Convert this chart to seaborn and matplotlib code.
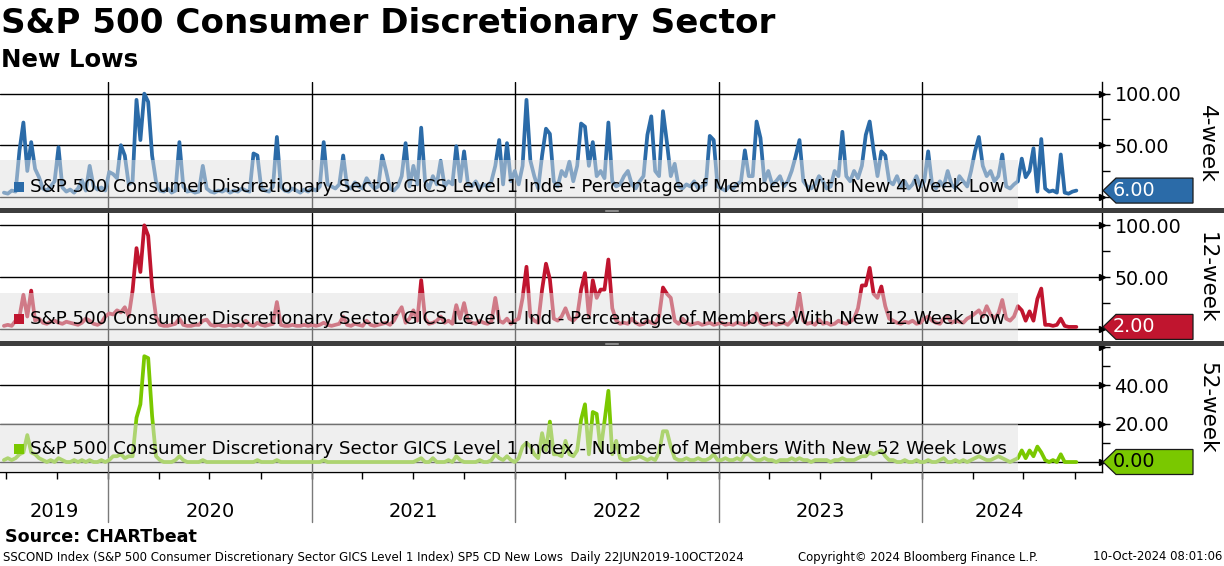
import numpy as np
import pandas as pd
import matplotlib
matplotlib.use("Agg")
import matplotlib.pyplot as plt
import matplotlib.dates as mdates
import matplotlib.transforms as mtrans
from matplotlib.patches import Polygon, Rectangle
from matplotlib.lines import Line2D
import seaborn as sns

# ---------------- data (weekly readings, Fridays from 28 Jun 2019) ----------------
start_date = "2019-06-28"

new_4w = [4, 3, 6, 5, 45, 72, 25, 53, 27, 19,
          8, 6, 10, 15, 48, 9, 5, 7, 4, 8,
          16, 6, 30, 10, 7, 9, 6, 24, 22, 18,
          50, 40, 12, 15, 94, 55, 100, 92, 40, 15,
          6, 5, 8, 4, 6, 53, 10, 5, 6, 4,
          5, 30, 8, 5, 4, 6, 5, 7, 4, 6,
          5, 8, 6, 5, 42, 40, 8, 6, 5, 10,
          58, 10, 6, 5, 8, 6, 4, 7, 5, 8,
          6, 10, 53, 12, 10, 8, 12, 40, 10, 8,
          14, 10, 8, 18, 12, 8, 10, 40, 25, 8,
          6, 10, 20, 52, 10, 30, 12, 67, 15, 8,
          20, 12, 35, 10, 15, 12, 49, 15, 44, 12,
          10, 15, 8, 12, 10, 15, 30, 55, 12, 52,
          15, 25, 12, 30, 94, 35, 20, 8, 40, 66,
          61, 15, 10, 25, 20, 34, 15, 30, 71, 68,
          30, 53, 20, 25, 18, 72, 15, 10, 12, 20,
          25, 12, 8, 15, 20, 60, 78, 25, 20, 83,
          53, 20, 32, 10, 8, 12, 10, 15, 8, 10,
          12, 59, 55, 10, 8, 6, 10, 8, 12, 15,
          45, 20, 20, 73, 57, 15, 25, 12, 15, 20,
          10, 15, 25, 39, 55, 15, 10, 8, 12, 20,
          15, 8, 10, 25, 20, 63, 20, 15, 25, 18,
          30, 60, 73, 45, 20, 44, 40, 15, 12, 20,
          10, 15, 8, 12, 20, 10, 15, 44, 12, 8,
          15, 10, 25, 12, 8, 20, 15, 10, 25, 44,
          58, 30, 20, 25, 15, 20, 41, 10, 8, 12,
          15, 37, 19, 25, 47, 5, 56, 8, 5, 6,
          4, 41, 4, 3, 5, 6]

new_12w = [3, 4, 3, 8, 12, 33, 12, 37, 8, 10,
           6, 5, 7, 8, 6, 5, 7, 6, 5, 4,
           6, 10, 8, 5, 4, 6, 12, 15, 14, 18,
           16, 21, 12, 37, 78, 55, 100, 90, 40, 12,
           4, 3, 3, 4, 5, 10, 4, 3, 3, 4,
           4, 8, 9, 4, 3, 4, 3, 3, 4, 3,
           4, 3, 8, 4, 3, 6, 4, 3, 4, 5,
           26, 4, 3, 3, 4, 3, 3, 4, 3, 4,
           3, 4, 6, 4, 3, 4, 5, 12, 4, 3,
           5, 4, 3, 8, 4, 3, 4, 5, 6, 4,
           8, 15, 21, 6, 10, 18, 8, 47, 10, 5,
           6, 8, 12, 6, 8, 5, 23, 10, 25, 8,
           6, 5, 8, 6, 5, 7, 30, 8, 6, 10,
           5, 8, 10, 30, 60, 12, 8, 6, 38, 63,
           48, 10, 8, 12, 20, 10, 8, 12, 38, 54,
           12, 47, 30, 38, 38, 67, 20, 8, 5, 6,
           5, 10, 6, 4, 5, 8, 6, 5, 12, 40,
           34, 30, 8, 5, 10, 6, 4, 5, 6, 4,
           5, 6, 4, 5, 6, 4, 5, 4, 6, 5,
           4, 6, 8, 15, 6, 4, 5, 6, 4, 5,
           6, 4, 8, 12, 34, 8, 5, 6, 4, 9,
           5, 6, 4, 5, 8, 6, 5, 7, 10, 20,
           42, 42, 59, 34, 30, 41, 22, 10, 8, 6,
           5, 7, 6, 8, 5, 6, 10, 12, 8, 6,
           5, 10, 12, 6, 8, 7, 6, 10, 12, 15,
           18, 12, 22, 14, 10, 15, 28, 10, 8, 12,
           22, 18, 8, 17, 8, 29, 39, 4, 4, 3,
           4, 10, 3, 2, 2, 2]

new_52w = [1, 2, 1, 2, 4, 5, 14, 5, 4, 2,
           1, 0, 1, 0, 2, 1, 0, 0, 1, 0,
           1, 0, 1, 0, 0, 1, 0, 1, 3, 3,
           4, 2, 3, 3, 23, 30, 55, 54, 24, 3,
           1, 0, 0, 0, 1, 3, 1, 0, 0, 0,
           0, 1, 0, 0, 0, 0, 0, 0, 0, 0,
           0, 0, 0, 0, 0, 1, 0, 0, 0, 0,
           1, 0, 0, 0, 0, 0, 0, 0, 0, 0,
           0, 0, 1, 0, 0, 0, 0, 0, 0, 0,
           0, 0, 0, 0, 0, 0, 0, 0, 0, 0,
           0, 0, 0, 0, 0, 0, 1, 2, 0, 0,
           2, 0, 0, 0, 1, 0, 3, 1, 0, 0,
           0, 0, 1, 0, 0, 1, 4, 2, 1, 3,
           1, 0, 2, 8, 10, 8, 4, 2, 15, 6,
           21, 4, 4, 3, 11, 4, 3, 6, 22, 30,
           4, 26, 25, 6, 21, 37, 4, 11, 2, 1,
           1, 2, 2, 3, 2, 1, 2, 1, 5, 16,
           16, 8, 2, 1, 1, 2, 1, 1, 2, 1,
           1, 2, 4, 1, 1, 2, 1, 1, 2, 1,
           4, 4, 2, 1, 1, 2, 1, 1, 0, 1,
           1, 1, 2, 1, 2, 1, 1, 0, 1, 1,
           1, 1, 0, 1, 1, 2, 1, 1, 1, 2,
           3, 3, 5, 4, 5, 6, 3, 1, 1, 0,
           0, 1, 0, 0, 1, 0, 0, 1, 0, 0,
           1, 2, 0, 0, 1, 0, 1, 0, 1, 2,
           3, 2, 1, 1, 2, 3, 2, 1, 0, 1,
           2, 6, 2, 6, 3, 8, 5, 1, 0, 1,
           0, 4, 0, 0, 0, 0]

panel_names = ["4-week", "12-week", "52-week"]
legend_labels = [
    "S&P 500 Consumer Discretionary Sector GICS Level 1 Inde - Percentage of Members With New 4 Week Low",
    "S&P 500 Consumer Discretionary Sector GICS Level 1 Ind - Percentage of Members With New 12 Week Low",
    "S&P 500 Consumer Discretionary Sector GICS Level 1 Index - Number of Members With New 52 Week Lows",
]
last_values = [6.0, 2.0, 0.0]
year_labels = ["2019", "2020", "2021", "2022", "2023", "2024"]
title = "S&P 500 Consumer Discretionary Sector"
subtitle = "New Lows"
source = "Source: CHARTbeat"
footer_left = "SSCOND Index (S&P 500 Consumer Discretionary Sector GICS Level 1 Index) SP5 CD New Lows  Daily 22JUN2019-10OCT2024"
footer_mid = "Copyright\u00a9 2024 Bloomberg Finance L.P."
footer_right = "10-Oct-2024 08:01:06"

# ---------------- style ----------------
sns.set_theme(style="white")
plt.rcParams['font.family'] = ['DejaVu Sans']

W, H = 1224, 566
fig = plt.figure(figsize=(W / 100, H / 100), dpi=100)
fig.patch.set_facecolor("white")
renderer = fig.canvas.get_renderer()


def fit(t, width_px):
    bb = t.get_window_extent(renderer)
    t.set_fontsize(t.get_fontsize() * width_px / bb.width)


def axrect(top, bottom, left=0, right=1102):
    return [left / W, 1 - bottom / H, (right - left) / W, (bottom - top) / H]


series = [new_4w, new_12w, new_52w]
colors = ["#2b6ba8", "#c0152f", "#7ac800"]
tag_text_colors = ["white", "white", "black"]
rects = [(82, 208), (213, 341), (346, 472)]
ylims = [(-10.9, 111.3), (-11.6, 111.9), (-5.2, 60.3)]
majors = [[0, 50, 100], [0, 50, 100], [0, 20, 40, 60]]
major_labels = [["", "50.00", "100.00"], ["", "50.00", "100.00"], ["", "20.00", "40.00", ""]]
minors = [[25, 75], [25, 75], [10, 50]]
box_fracs = [0.378, 0.377, 0.38]
text_fracs = [0.17, 0.17, 0.185]
label_centers = [144, 278, 408]

xmin, xmax = pd.Timestamp("2019-06-21"), pd.Timestamp("2024-11-19")
year_starts = [pd.Timestamp(f"{y}-01-01") for y in range(2020, 2025)]

axes = []
for i, vals in enumerate(series):
    top, bottom = rects[i]
    ax = fig.add_axes(axrect(top, bottom))
    axes.append(ax)
    dates = pd.date_range(start_date, periods=len(vals), freq="7D")
    df = pd.DataFrame({"date": dates, "value": vals})

    ax.set_xlim(xmin, xmax)
    ax.set_ylim(*ylims[i])

    for yv in majors[i][:3]:
        ax.axhline(yv, color="black", lw=1.0, zorder=1)
    for ys in year_starts:
        ax.axvline(ys, color="black", lw=1.0, zorder=1)

    sns.lineplot(data=df, x="date", y="value", ax=ax, color=colors[i],
                 lw=2.7, zorder=2, legend=False,
                 solid_joinstyle="round", solid_capstyle="round")
    ax.set_xlabel("")
    ax.set_ylabel("")

    # translucent legend band
    ax.add_patch(Rectangle((0, 0), 1018 / 1102, box_fracs[i], transform=ax.transAxes,
                           facecolor="#e0e0e0", alpha=0.5, edgecolor="none", zorder=3))
    ax.scatter([18.5 / 1102], [text_fracs[i]], transform=ax.transAxes, marker="s",
               s=62, color=colors[i], zorder=5, clip_on=False, linewidths=0)
    t = ax.text(30 / 1102, text_fracs[i], legend_labels[i], transform=ax.transAxes,
                va="center", ha="left", fontsize=13, color="black", zorder=5)
    fit(t, 976)

    for sp in ["left", "top", "bottom"]:
        ax.spines[sp].set_visible(False)
    ax.spines["right"].set_visible(True)
    ax.spines["right"].set_color("black")
    ax.spines["right"].set_linewidth(1.0)

    ax.yaxis.tick_right()
    ax.set_yticks(majors[i])
    ax.set_yticklabels(major_labels[i])
    ax.set_yticks(minors[i], minor=True)
    ax.tick_params(axis="y", which="both", right=True, left=False, labelright=True,
                   labelleft=False, direction="out", length=6, width=1,
                   color="black", labelcolor="black", labelsize=13.8, pad=3)
    bt = mtrans.blended_transform_factory(ax.transAxes, ax.transData)
    ax.plot([1.0] * len(majors[i]), majors[i], marker=">", ls="none", color="black",
            ms=5, transform=bt, clip_on=False, zorder=6)

    if i < 2:
        ax.set_xticks([])
    else:
        ax.spines["bottom"].set_visible(True)
        ax.spines["bottom"].set_color("black")
        ax.spines["bottom"].set_linewidth(1.0)
        qticks = pd.date_range("2019-07-01", "2024-10-01", freq="QS")
        ax.set_xticks(mdates.date2num(qticks))
        ax.set_xticklabels([""] * len(qticks))
        ax.tick_params(axis="x", which="major", bottom=True, direction="out", length=5,
                       width=1, color="black")

    # value tag
    fig.canvas.draw()
    ydisp = ax.transData.transform((0, last_values[i]))[1]
    xr = ax.transAxes.transform((1, 0))[0]
    hh = 12.5
    poly = Polygon([(xr + 1, ydisp), (xr + 14, ydisp + hh), (1193, ydisp + hh),
                    (1193, ydisp - hh), (xr + 14, ydisp - hh)], closed=True,
                   facecolor=colors[i], edgecolor="#1a1a1a", lw=0.9,
                   transform=mtrans.IdentityTransform())
    fig.add_artist(poly)
    fig.text(1113 / W, ydisp / H, f"{last_values[i]:.2f}", color=tag_text_colors[i],
             fontsize=13.8, va="center", ha="left")

    fig.text(1207 / W, 1 - label_centers[i] / H, panel_names[i], rotation=270,
             ha="center", va="center", fontsize=15.5, color="black")

ax3 = axes[2]
# year separators below the axis
bt3 = mtrans.blended_transform_factory(ax3.transData, fig.transFigure)
for ys in year_starts:
    xn = mdates.date2num(ys)
    fig.add_artist(Line2D([xn, xn], [1 - 472 / H, 1 - 522 / H], transform=bt3,
                          color="#7a7a7a", lw=1.0))
# year labels centred in each year span
last_date = pd.date_range(start_date, periods=len(new_4w), freq="7D")[-1]
bounds = [xmin] + year_starts + [last_date]
ba = mtrans.blended_transform_factory(ax3.transData, ax3.transAxes)
for k, lab in enumerate(year_labels):
    mid = bounds[k] + (bounds[k + 1] - bounds[k]) / 2
    ax3.text(mdates.date2num(mid), -0.31, lab, transform=ba, ha="center", va="center",
             fontsize=14, color="black")

# panel separator bands
for y0, y1 in [(208, 213), (341, 346)]:
    fig.add_artist(Rectangle((0, 1 - y1 / H), 1, (y1 - y0) / H, transform=fig.transFigure,
                             facecolor="#3d3d3d", edgecolor="none"))
    for dy in (1.6, 3.2):
        fig.add_artist(Line2D([605 / W, 618 / W], [1 - (y0 + dy) / H] * 2,
                              transform=fig.transFigure, color="#9a9a9a", lw=0.6))

# titles
t = fig.text(1 / W, 1 - 24 / H, title, fontweight="bold", fontsize=22, va="center",
             ha="left", color="black")
fit(t, 771)
t = fig.text(1 / W, 1 - 60 / H, subtitle, fontweight="bold", fontsize=16, va="center",
             ha="left", color="black")
fit(t, 137)

# footers
t = fig.text(5 / W, 1 - 537 / H, source, fontweight="bold", fontsize=12, va="center",
             ha="left", color="black")
fit(t, 191)
t = fig.text(3 / W, 1 - 557 / H, footer_left, fontsize=8, va="center", ha="left",
             color="black")
fit(t, 742)
t = fig.text(798 / W, 1 - 557 / H, footer_mid, fontsize=8, va="center", ha="left",
             color="black")
fit(t, 240)
t = fig.text(1093 / W, 1 - 557 / H, footer_right, fontsize=8, va="center", ha="left",
             color="black")
fit(t, 129)

fig.savefig("out.png", dpi=100)
